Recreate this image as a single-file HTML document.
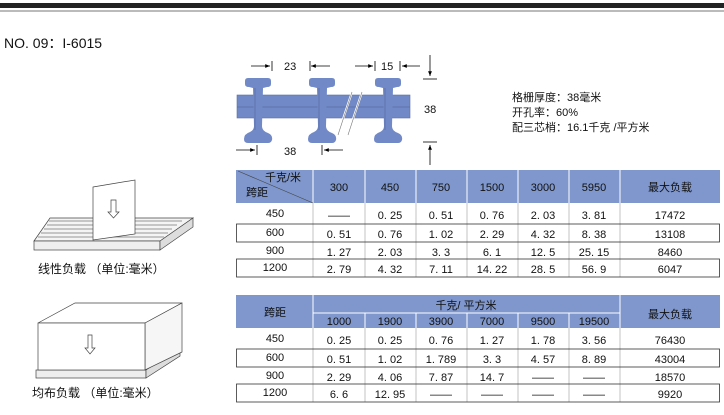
<!DOCTYPE html>
<html><head><meta charset="utf-8"><style>
body{margin:0;background:#fff;width:724px;height:410px;overflow:hidden;font-family:"Liberation Sans","Noto Sans CJK SC",sans-serif}
</style></head><body>
<svg width="724" height="410" viewBox="0 0 724 410" xmlns="http://www.w3.org/2000/svg" font-family="Liberation Sans, Noto Sans CJK SC, sans-serif">
<defs>
<marker id="ar" viewBox="0 0 10 10" refX="10" refY="5" markerWidth="6" markerHeight="6" orient="auto"><path d="M0,1 L10,5 L0,9z" fill="#000"/></marker>
</defs>
<rect x="0" y="3" width="724" height="5" fill="#222"/>
<rect x="0" y="10" width="724" height="2" fill="#bbb"/>
<text x="4" y="48" font-size="14" fill="#111">NO. 09：I-6015</text>

<!-- profile -->
<g fill="#7189c7" stroke="#5a6fa8" stroke-width="0.6">
<rect x="237" y="95" width="173" height="23"/>
</g>
<line x1="237" y1="107" x2="410" y2="107" stroke="#4a5c90" stroke-width="0.6"/>
<g fill="#7189c7">
<path id="ib" d="M-13,81 Q-13,78 -10,78 L10,78 Q13,78 13,81 L13,84 Q13,87 9,87 L5,88 L4,126 Q4,131 10,133 Q15,135 14,140 Q13,143 10,143 L-10,143 Q-14,143 -14,139 Q-14,134 -8,132 Q-4,130 -4,126 L-5,88 L-9,87 Q-13,87 -13,84z" transform="translate(258,0)"/>
<use href="#ib" transform="translate(64,0)"/>
<use href="#ib" transform="translate(130,0)"/>
</g>
<g stroke="#4a5c90" stroke-width="0.5"><line x1="255" y1="88" x2="255" y2="130"/><line x1="319" y1="88" x2="319" y2="130"/><line x1="385" y1="88" x2="385" y2="130"/></g>
<g stroke="#fff" stroke-width="2"><line x1="352" y1="92" x2="342" y2="122"/><line x1="362" y1="92" x2="352" y2="122"/></g>
<g stroke="#777" stroke-width="0.6"><line x1="352" y1="92" x2="338" y2="135"/><line x1="362" y1="92" x2="348" y2="135"/></g>
<g stroke="#000" stroke-width="0.8" fill="none">
<line x1="251" y1="66" x2="270" y2="66" marker-end="url(#ar)"/><line x1="272" y1="61" x2="272" y2="71"/>
<line x1="330" y1="66" x2="311" y2="66" marker-end="url(#ar)"/><line x1="310" y1="61" x2="310" y2="71"/>
<line x1="355" y1="66" x2="373" y2="66" marker-end="url(#ar)"/><line x1="375" y1="61" x2="375" y2="71"/>
<line x1="420" y1="66" x2="402" y2="66" marker-end="url(#ar)"/><line x1="400" y1="61" x2="400" y2="71"/>
<line x1="430" y1="55" x2="430" y2="76" marker-end="url(#ar)"/><line x1="423" y1="79" x2="437" y2="79"/>
<line x1="430" y1="165" x2="430" y2="145" marker-end="url(#ar)"/><line x1="423" y1="142" x2="437" y2="142"/>
<line x1="236" y1="150" x2="255" y2="150" marker-end="url(#ar)"/><line x1="257" y1="145" x2="257" y2="155"/>
<line x1="343" y1="150" x2="324" y2="150" marker-end="url(#ar)"/><line x1="322" y1="145" x2="322" y2="155"/>
</g>
<g font-size="11" fill="#111"><text x="284" y="70">23</text><text x="381" y="70">15</text><text x="424" y="113">38</text><text x="284" y="155">38</text></g>
<g font-size="11" fill="#111"><text x="512" y="101">格栅厚度：38毫米</text><text x="512" y="116">开孔率：60%</text><text x="512" y="131">配三芯梢：16.1千克 /平方米</text></g>

<!-- table 1 -->
<rect x="236" y="170" width="484" height="33" fill="#7f97cc"/>
<g stroke="#fff" stroke-width="1"><line x1="313" y1="170" x2="313" y2="203"/><line x1="365" y1="170" x2="365" y2="203"/><line x1="416" y1="170" x2="416" y2="203"/><line x1="467" y1="170" x2="467" y2="203"/><line x1="518" y1="170" x2="518" y2="203"/><line x1="569" y1="170" x2="569" y2="203"/><line x1="620" y1="170" x2="620" y2="203"/></g>
<line x1="238" y1="171" x2="313" y2="203" stroke="#444" stroke-width="0.6"/>
<g stroke="#aaa" stroke-width="0.7"><line x1="313" y1="203" x2="313" y2="277"/><line x1="365" y1="203" x2="365" y2="277"/><line x1="416" y1="203" x2="416" y2="277"/><line x1="467" y1="203" x2="467" y2="277"/><line x1="518" y1="203" x2="518" y2="277"/><line x1="569" y1="203" x2="569" y2="277"/><line x1="620" y1="203" x2="620" y2="277"/></g>
<g fill="none" stroke="#333" stroke-width="0.8"><rect x="236.5" y="224" width="483" height="18"/><rect x="236.5" y="259" width="483" height="18"/></g>
<g font-size="11" fill="#111" text-anchor="middle">
<text x="283" y="181">千克/米</text><text x="257" y="196">跨距</text>
<text x="339" y="191">300</text><text x="390" y="191">450</text><text x="441" y="191">750</text><text x="492" y="191">1500</text><text x="543" y="191">3000</text><text x="594" y="191">5950</text><text x="670" y="191">最大负载</text>
<text x="275" y="217">450</text><text x="339" y="219">——</text><text x="390" y="219">0. 25</text><text x="441" y="219">0. 51</text><text x="492" y="219">0. 76</text><text x="543" y="219">2. 03</text><text x="594" y="219">3. 81</text><text x="670" y="219">17472</text>
<text x="275" y="236">600</text><text x="339" y="238">0. 51</text><text x="390" y="238">0. 76</text><text x="441" y="238">1. 02</text><text x="492" y="238">2. 29</text><text x="543" y="238">4. 32</text><text x="594" y="238">8. 38</text><text x="670" y="238">13108</text>
<text x="275" y="254">900</text><text x="339" y="256">1. 27</text><text x="390" y="256">2. 03</text><text x="441" y="256">3. 3</text><text x="492" y="256">6. 1</text><text x="543" y="256">12. 5</text><text x="594" y="256">25. 15</text><text x="670" y="256">8460</text>
<text x="275" y="271">1200</text><text x="339" y="273">2. 79</text><text x="390" y="273">4. 32</text><text x="441" y="273">7. 11</text><text x="492" y="273">14. 22</text><text x="543" y="273">28. 5</text><text x="594" y="273">56. 9</text><text x="670" y="273">6047</text>
</g>

<!-- table 2 -->
<rect x="236" y="295" width="484" height="33" fill="#7f97cc"/>
<g stroke="#fff" stroke-width="1"><line x1="313" y1="295" x2="313" y2="328"/><line x1="620" y1="295" x2="620" y2="328"/><line x1="313" y1="313" x2="620" y2="313"/><line x1="365" y1="313" x2="365" y2="328"/><line x1="416" y1="313" x2="416" y2="328"/><line x1="467" y1="313" x2="467" y2="328"/><line x1="518" y1="313" x2="518" y2="328"/><line x1="569" y1="313" x2="569" y2="328"/></g>
<g stroke="#aaa" stroke-width="0.7"><line x1="313" y1="328" x2="313" y2="402"/><line x1="365" y1="328" x2="365" y2="402"/><line x1="416" y1="328" x2="416" y2="402"/><line x1="467" y1="328" x2="467" y2="402"/><line x1="518" y1="328" x2="518" y2="402"/><line x1="569" y1="328" x2="569" y2="402"/><line x1="620" y1="328" x2="620" y2="402"/></g>
<g fill="none" stroke="#333" stroke-width="0.8"><rect x="236.5" y="349" width="483" height="18"/><rect x="236.5" y="384" width="483" height="18"/></g>
<g font-size="11" fill="#111" text-anchor="middle">
<text x="275" y="316">跨距</text><text x="466" y="309">千克/ 平方米</text><text x="670" y="318">最大负载</text>
<text x="339" y="325">1000</text><text x="390" y="325">1900</text><text x="441" y="325">3900</text><text x="492" y="325">7000</text><text x="543" y="325">9500</text><text x="594" y="325">19500</text>
<text x="275" y="342">450</text><text x="339" y="344">0. 25</text><text x="390" y="344">0. 25</text><text x="441" y="344">0. 76</text><text x="492" y="344">1. 27</text><text x="543" y="344">1. 78</text><text x="594" y="344">3. 56</text><text x="670" y="344">76430</text>
<text x="275" y="361">600</text><text x="339" y="363">0. 51</text><text x="390" y="363">1. 02</text><text x="441" y="363">1. 789</text><text x="492" y="363">3. 3</text><text x="543" y="363">4. 57</text><text x="594" y="363">8. 89</text><text x="670" y="363">43004</text>
<text x="275" y="379">900</text><text x="339" y="381">2. 29</text><text x="390" y="381">4. 06</text><text x="441" y="381">7. 87</text><text x="492" y="381">14. 7</text><text x="543" y="381">——</text><text x="594" y="381">——</text><text x="670" y="381">18570</text>
<text x="275" y="396">1200</text><text x="339" y="398">6. 6</text><text x="390" y="398">12. 95</text><text x="441" y="398">——</text><text x="492" y="398">——</text><text x="543" y="398">——</text><text x="594" y="398">——</text><text x="670" y="398">9920</text>
</g>

<!-- grating 1 -->
<g stroke="#444" stroke-width="0.7" fill="#fff">
<path d="M34,241 L50,218 L193,218 L160,241z" fill="#f4f4f4"/>
<g stroke="#777"><line x1="38" y1="237" x2="164" y2="237"/><line x1="41" y1="233" x2="168" y2="233"/><line x1="44" y1="229" x2="172" y2="229"/><line x1="47" y1="225" x2="177" y2="225"/><line x1="49" y1="221" x2="182" y2="221"/></g>
<rect x="34" y="241" width="126" height="9" fill="#eee"/>
<path d="M160,250 L193,227 L193,218 L160,241z" fill="#ddd"/>
<path d="M93,187 L135,180 L135,234 L93,240z"/>
<path d="M111,200 h5 v12 h3 l-5.5,6 l-5.5,-6 h3z" fill="#fff"/>
</g>
<text x="38" y="273" font-size="12" fill="#111">线性负载 （单位:毫米）</text>

<!-- box 2 -->
<g stroke="#444" stroke-width="0.7" fill="#fff">
<rect x="36" y="370" width="110" height="8" fill="#eee"/>
<path d="M146,378 L180,356 L180,348 L146,370z" fill="#ddd"/>
<path d="M38,323 L75,303 L182,303 L145,323z"/>
<path d="M145,323 L182,303 L182,352 L145,370z" fill="#f6f6f6"/>
<rect x="38" y="323" width="107" height="47"/>
<path d="M88,335 h4 v13 h3 l-5,6 l-5,-6 h3z"/>
</g>
<text x="32" y="397" font-size="12" fill="#111">均布负载 （单位:毫米）</text>
</svg>
</body></html>
